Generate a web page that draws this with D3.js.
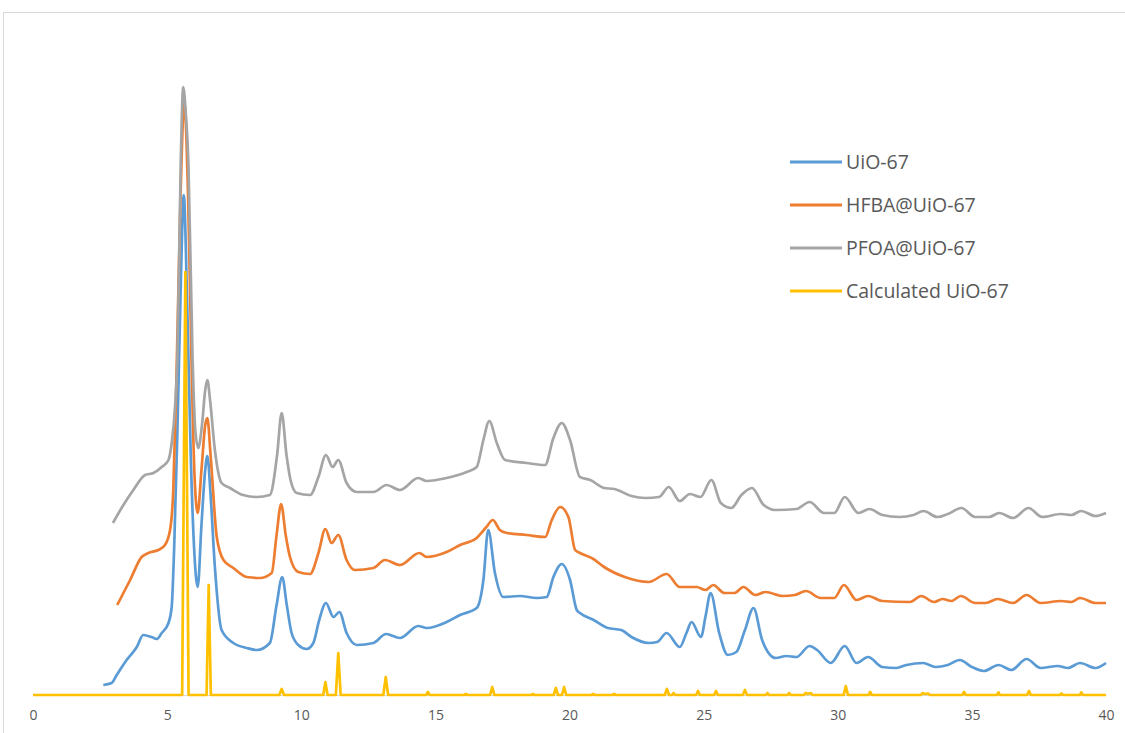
<!DOCTYPE html>
<html>
<head>
<meta charset="utf-8">
<script src="https://cdn.jsdelivr.net/npm/d3@7"></script>
<style>
  body { margin: 0; background: #fff; }
  svg { display: block; font-family: "Open Sans", "Liberation Sans", sans-serif; }
</style>
</head>
<body>
<div id="chart"></div>
<script>

// 2-theta (deg) vs intensity (a.u.)
const uio67 = [[2.62,10],[2.93,12],[3.12,20],[3.49,35],[3.87,48],[4.11,60],[4.42,58],[4.61,56],[4.80,62],[5.05,72],[5.17,88],[5.26,145],[5.38,260],[5.50,400],[5.62,500],[5.74,400],[5.88,240],[6.00,150],[6.14,108],[6.28,170],[6.42,225],[6.50,239],[6.62,200],[6.78,128],[7.03,65],[7.47,52],[7.97,47],[8.34,45],[8.83,52],[9.08,90],[9.29,118],[9.46,90],[9.64,62],[9.89,50],[10.20,46],[10.45,52],[10.67,75],[10.92,92],[11.20,78],[11.42,83],[11.69,62],[12.07,50],[12.69,52],[13.16,61],[13.68,57],[14.36,69],[14.68,67],[15.42,73],[15.92,80],[16.54,87],[16.79,115],[16.97,165],[17.22,122],[17.53,98],[18.15,99],[18.78,97],[19.15,98],[19.40,118],[19.71,131],[20.02,115],[20.27,85],[20.39,82],[20.90,75],[21.42,67],[21.93,65],[22.31,58],[22.95,52],[23.27,53],[23.62,62],[24.11,48],[24.36,62],[24.55,73],[24.90,58],[25.08,80],[25.26,102],[25.58,62],[25.90,40],[26.22,43],[26.54,65],[26.86,87],[27.18,55],[27.69,37],[28.08,39],[28.46,38],[28.95,49],[29.23,45],[29.74,32],[30.26,49],[30.70,32],[31.13,38],[31.66,28],[32.18,27],[32.56,30],[33.18,32],[33.65,28],[34.10,30],[34.55,35],[35.00,28],[35.44,24],[36.00,30],[36.47,25],[37.04,36],[37.56,27],[38.20,29],[38.58,27],[39.03,32],[39.61,27],[40.00,32]];

const hfba = [[3.14,90],[3.62,115],[4.05,138],[4.30,142],[4.67,145],[4.92,150],[5.11,165],[5.23,205],[5.35,320],[5.50,500],[5.64,593],[5.78,500],[5.92,320],[6.02,220],[6.14,182],[6.28,225],[6.42,270],[6.50,277],[6.62,240],[6.85,158],[7.10,135],[7.47,127],[7.97,118],[8.46,117],[8.90,122],[9.08,160],[9.25,191],[9.42,160],[9.58,138],[9.89,123],[10.33,121],[10.64,142],[10.90,166],[11.13,152],[11.38,160],[11.69,135],[12.00,125],[12.69,127],[13.12,135],[13.68,130],[14.40,142],[14.68,138],[15.42,143],[15.92,150],[16.54,157],[16.90,168],[17.14,175],[17.40,165],[17.66,162],[18.40,160],[19.09,158],[19.34,175],[19.65,188],[19.96,178],[20.21,145],[20.39,142],[20.89,136],[21.29,128],[22.06,118],[22.95,113],[23.62,121],[24.11,108],[24.74,108],[25.07,105],[25.36,110],[25.77,102],[26.15,102],[26.48,108],[26.93,100],[27.31,103],[27.95,99],[28.40,100],[28.82,104],[29.36,97],[29.87,97],[30.23,110],[30.70,95],[31.13,99],[31.66,94],[32.69,93],[33.11,99],[33.59,93],[33.91,96],[34.23,94],[34.59,99],[35.12,92],[35.51,92],[35.96,96],[36.53,92],[37.04,100],[37.56,92],[38.33,94],[38.71,93],[39.03,97],[39.61,92],[40.00,92]];

const pfoa = [[2.98,172],[3.37,190],[3.74,205],[4.18,220],[4.49,222],[4.80,228],[5.05,235],[5.17,252],[5.30,290],[5.38,335],[5.51,535],[5.60,608],[5.70,580],[5.79,535],[5.95,335],[6.05,265],[6.16,247],[6.30,270],[6.42,305],[6.50,315],[6.60,295],[6.78,245],[7.03,212],[7.34,207],[7.83,200],[8.34,198],[8.83,200],[9.10,240],[9.27,282],[9.45,240],[9.60,215],[9.83,202],[10.33,200],[10.64,218],[10.92,240],[11.17,228],[11.38,235],[11.69,212],[12.07,203],[12.69,203],[13.18,210],[13.68,205],[14.36,217],[14.67,214],[15.42,217],[16.17,223],[16.54,228],[16.79,255],[17.01,274],[17.29,252],[17.60,235],[18.40,232],[19.09,230],[19.40,257],[19.71,272],[20.02,255],[20.39,218],[20.78,215],[21.29,207],[21.67,206],[22.31,199],[22.83,197],[23.34,198],[23.70,208],[24.11,194],[24.49,201],[24.88,198],[25.29,215],[25.64,192],[26.03,187],[26.41,200],[26.80,207],[27.24,190],[27.69,185],[28.46,186],[28.95,193],[29.49,182],[29.87,182],[30.26,198],[30.77,182],[31.18,186],[31.66,180],[32.31,178],[32.82,180],[33.20,184],[33.71,178],[34.10,181],[34.61,187],[35.12,178],[35.64,178],[36.02,182],[36.54,177],[37.11,187],[37.62,178],[38.32,181],[38.71,180],[39.07,184],[39.61,179],[40.00,182]];

const calculated = [[0,0],[5.56,0],[5.68,423],[5.80,0],[6.47,0],[6.55,110],[6.63,0],[9.18,0],[9.27,6],[9.36,0],[10.82,0],[10.90,13],[10.98,0],[11.29,0],[11.38,42],[11.47,0],[13.06,0],[13.15,18],[13.24,0],[14.65,0],[14.72,3],[14.79,0],[16.08,0],[16.14,1],[16.20,0],[17.04,0],[17.12,8],[17.20,0],[18.58,0],[18.64,1],[18.70,0],[19.41,0],[19.49,7],[19.57,0],[19.72,0],[19.80,8],[19.88,0],[20.82,0],[20.88,1],[20.94,0],[21.60,0],[21.66,1],[21.72,0],[23.55,0],[23.63,6],[23.71,0],[23.82,0],[23.88,2],[23.94,0],[24.72,0],[24.79,4],[24.86,0],[25.39,0],[25.46,4],[25.53,0],[26.46,0],[26.54,5],[26.62,0],[27.32,0],[27.38,2],[27.44,0],[28.13,0],[28.19,2],[28.25,0],[28.74,0],[28.80,2],[28.88,1],[29.00,2],[29.06,0],[30.22,0],[30.30,9],[30.38,0],[31.15,0],[31.21,3],[31.27,0],[33.10,0],[33.16,2],[33.26,1],[33.37,1.5],[33.43,0],[34.64,0],[34.71,3],[34.78,0],[35.93,0],[35.99,2.5],[36.05,0],[37.06,0],[37.13,4],[37.20,0],[38.28,0],[38.34,1.5],[38.40,0],[39.02,0],[39.08,2.5],[39.14,0],[40,0]];

const seriesNames = ["UiO-67", "HFBA@UiO-67", "PFOA@UiO-67", "Calculated UiO-67"];
const seriesColors = ["#5B9BD5", "#ED7D31", "#A5A5A5", "#FFC000"];
const xTicks = [0, 5, 10, 15, 20, 25, 30, 35, 40];

const width = 1125, height = 733;

const svg = d3.select("#chart").append("svg")
    .attr("width", width)
    .attr("height", height);

// chart area frame
svg.append("rect")
    .attr("x", 3.5).attr("y", 12.5)
    .attr("width", 1140).attr("height", 740)
    .attr("fill", "#fff")
    .attr("stroke", "#D9D9D9");

const x = d3.scaleLinear().domain([0, 40]).range([33, 1106]);
const y = d3.scaleLinear().domain([0, 665]).range([695, 30]);

// x axis
const xAxis = svg.append("g")
    .attr("transform", `translate(0, ${y(0)})`)
    .call(d3.axisBottom(x).tickValues(xTicks).tickSize(0).tickPadding(15));
xAxis.select(".domain").attr("stroke", "#D9D9D9");
xAxis.selectAll("text")
    .attr("fill", "#595959")
    .style("font-size", "14px")
    .style("font-family", "'Open Sans', sans-serif");

const line = d3.line()
    .x(d => x(d[0]))
    .y(d => y(d[1]))
    .curve(d3.curveMonotoneX);

const straight = d3.line()
    .x(d => x(d[0]))
    .y(d => y(d[1]));

const allData = [uio67, hfba, pfoa, calculated];

allData.forEach((data, i) => {
    svg.append("path")
        .datum(data)
        .attr("fill", "none")
        .attr("stroke", seriesColors[i])
        .attr("stroke-width", 2.7)
        .attr("stroke-linejoin", "round")
        .attr("d", i === 3 ? straight : line);
});

// legend
const legend = svg.append("g").attr("transform", "translate(790, 162)");
seriesNames.forEach((name, i) => {
    const row = legend.append("g").attr("transform", `translate(0, ${i * 43})`);
    row.append("line")
        .attr("x1", 0).attr("x2", 52)
        .attr("stroke", seriesColors[i])
        .attr("stroke-width", 3);
    row.append("text")
        .attr("x", 56)
        .attr("dy", "0.35em")
        .attr("fill", "#595959")
        .style("font-size", "19.5px")
        .text(name);
});
</script>
</body>
</html>
